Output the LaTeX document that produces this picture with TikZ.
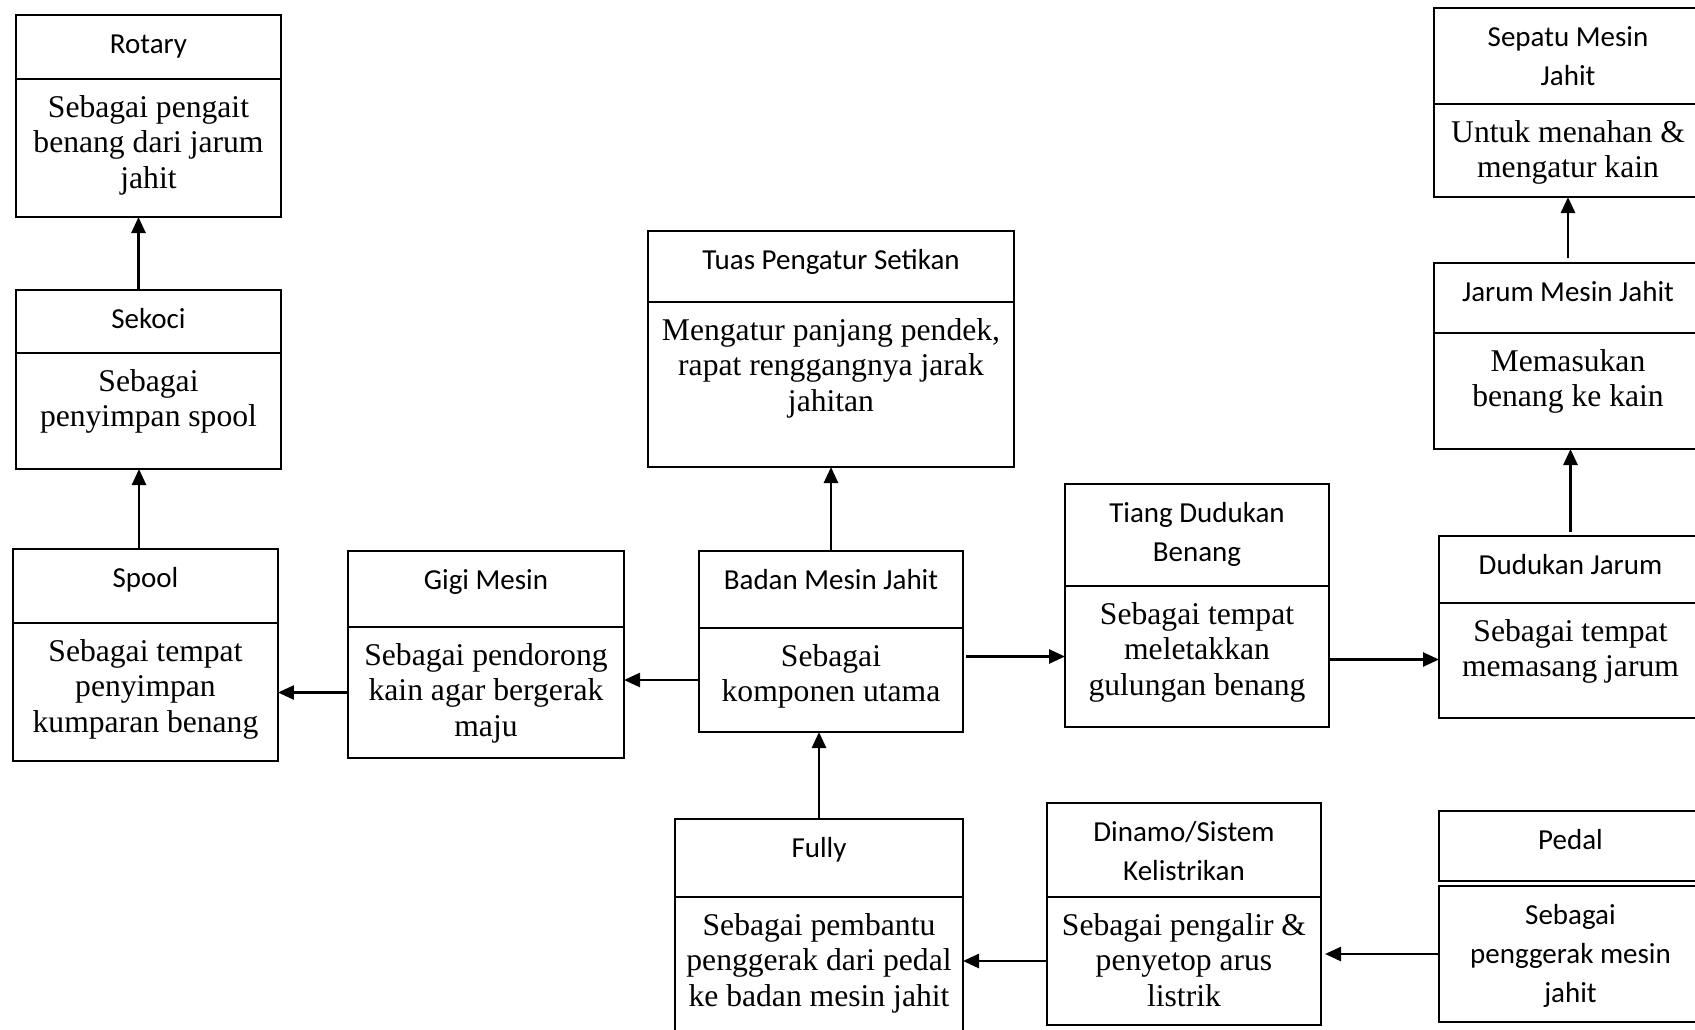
\documentclass[tikz,border=0pt]{standalone}
\usepackage{fontspec}
\setmainfont{Liberation Serif}
\newfontfamily\carlito{Carlito}
\usetikzlibrary{arrows.meta}
\newcommand{\blockpart}[3]{\parbox[c][#2][t]{#1}{\centering\rule{0pt}{3.8mm}#3}}

\begin{document}
\begin{tikzpicture}[x=0.1mm,y=0.1mm,
  head/.style={draw,line width=0.26mm,inner sep=0pt,outer sep=0pt,anchor=north west,font=\carlito\fontsize{8.25pt}{11.1pt}\selectfont},
  body/.style={draw,line width=0.26mm,inner sep=0pt,outer sep=0pt,anchor=north,font=\fontsize{9pt}{10.2pt}\selectfont},
  arr/.style={-{Triangle[length=1.6mm,width=1.4mm]},line width=0.26mm}]
  \useasboundingbox (0,0) rectangle (1695,-1029);

  % left column
  \node[head] (rotT) at (16,-15) {\blockpart{26.5mm}{6.4mm}{Rotary}};
  \node[body] (rotD) at (rotT.south) {\blockpart{26.5mm}{13.8mm}{Sebagai pengait\\benang dari jarum\\jahit}};
  \node[head] (sekT) at (16,-290) {\blockpart{26.5mm}{6.3mm}{Sekoci}};
  \node[body] (sekD) at (sekT.south) {\blockpart{26.5mm}{11.6mm}{Sebagai\\penyimpan spool}};
  \node[head] (spoT) at (13,-549) {\blockpart{26.5mm}{7.4mm}{Spool}};
  \node[body] (spoD) at (spoT.south) {\blockpart{26.5mm}{13.8mm}{Sebagai tempat\\penyimpan\\kumparan benang}};

  % middle
  \node[head] (gigT) at (348,-551) {\blockpart{27.6mm}{7.6mm}{Gigi Mesin}};
  \node[body] (gigD) at (gigT.south) {\blockpart{27.6mm}{13.1mm}{Sebagai pendorong\\kain agar bergerak\\maju}};
  \node[head] (badT) at (699,-551) {\blockpart{26.4mm}{7.7mm}{Badan Mesin Jahit}};
  \node[body] (badD) at (badT.south) {\blockpart{26.4mm}{10.4mm}{Sebagai\\komponen utama}};
  \node[head] (tuaT) at (648,-231) {\blockpart{36.6mm}{7.1mm}{Tuas Pengatur Setikan}};
  \node[body] (tuaD) at (tuaT.south) {\blockpart{36.6mm}{16.5mm}{Mengatur panjang pendek,\\rapat renggangnya jarak\\jahitan}};
  \node[head] (fulT) at (675,-819) {\blockpart{28.8mm}{7.8mm}{Fully}};
  \node[body] (fulD) at (fulT.south) {\blockpart{28.8mm}{14mm}{Sebagai pembantu\\penggerak dari pedal\\ke badan mesin jahit}};
  \node[head] (tiaT) at (1065,-484) {\blockpart{26.4mm}{10.2mm}{Tiang Dudukan\\Benang}};
  \node[body] (tiaD) at (tiaT.south) {\blockpart{26.4mm}{14.1mm}{Sebagai tempat\\meletakkan\\gulungan benang}};
  \node[head] (dinT) at (1047,-803) {\blockpart{27.4mm}{9.4mm}{Dinamo/Sistem\\Kelistrikan}};
  \node[body] (dinD) at (dinT.south) {\blockpart{27.4mm}{12.8mm}{Sebagai pengalir \&\\penyetop arus\\listrik}};

  % right column
  \node[head] (sepT) at (1434,-8) {\blockpart{26.8mm}{9.6mm}{Sepatu Mesin\\Jahit}};
  \node[body] (sepD) at (sepT.south) {\blockpart{26.8mm}{9.3mm}{Untuk menahan \&\\mengatur kain}};
  \node[head] (jarT) at (1434,-263) {\blockpart{26.8mm}{7mm}{Jarum Mesin Jahit}};
  \node[body] (jarD) at (jarT.south) {\blockpart{26.8mm}{11.6mm}{Memasukan\\benang ke kain}};
  \node[head] (dudT) at (1439,-536) {\blockpart{26.3mm}{6.7mm}{Dudukan Jarum}};
  \node[body] (dudD) at (dudT.south) {\blockpart{26.3mm}{11.5mm}{Sebagai tempat\\memasang jarum}};
  \node[head] (pedT) at (1439,-811) {\blockpart{26.3mm}{7mm}{Pedal}};
  \node[head] (pedD) at (1439,-886) {\blockpart{26.3mm}{13.6mm}{Sebagai\\penggerak mesin\\jahit}};

  % arrows
  \draw[arr] ([xshift=-1mm]sekT.north) -- ([xshift=-1mm]rotD.south);
  \draw[arr] ([xshift=-0.65mm]spoT.north) -- ([xshift=-0.65mm]spoT.north |- sekD.south);
  \draw[arr] (gigD.west) -- (gigD.west -| spoD.east);
  \draw[arr] (badD.west) -- (badD.west -| gigD.east);
  \draw[arr] (badT.north) -- (badT.north |- tuaD.south);
  \draw[arr] ([xshift=0.3mm]badD.east |- tiaD.west) -- (tiaD.west);
  \draw[arr] ([yshift=-0.3mm]tiaD.east) -- ([yshift=-0.3mm]tiaD.east -| dudD.west);
  \draw[arr] ([yshift=0.4mm]dudT.north) -- (dudT.north |- jarD.south);
  \draw[arr] ([yshift=0.5mm]jarT.north) -- (jarT.north |- sepD.south);
  \draw[arr] (fulT.north) -- (fulT.north |- badD.south);
  \draw[arr] (dinD.west) -- (dinD.west -| fulD.east);
  \draw[arr] (pedD.west) -- ([xshift=0.4mm]pedD.west -| dinD.east);
\end{tikzpicture}
\end{document}
